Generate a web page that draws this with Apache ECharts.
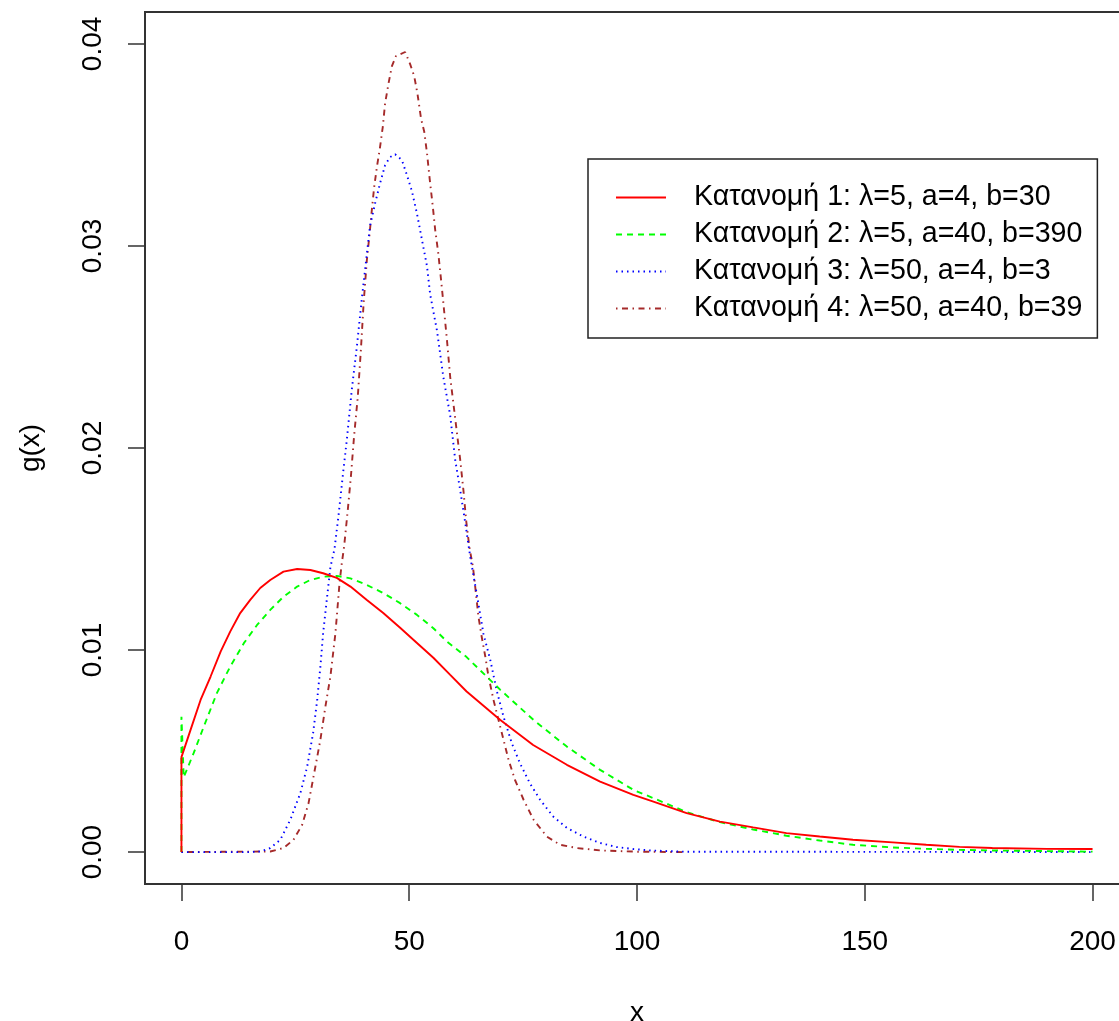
<!DOCTYPE html>
<html>
<head>
<meta charset="utf-8">
<script src="https://cdn.jsdelivr.net/npm/echarts@6/dist/echarts.min.js"></script>
<style>
html,body{margin:0;padding:0;background:#fff;}
#chart{width:1119px;height:1021px;}
</style>
</head>
<body>
<div id="chart"></div>
<script>
// Series names
const seriesNames = [
  'Κατανομή 1: λ=5, a=4, b=30',
  'Κατανομή 2: λ=5, a=40, b=390',
  'Κατανομή 3: λ=50, a=4, b=3',
  'Κατανομή 4: λ=50, a=40, b=39'
];
// Tick values
const xTicks = [0, 50, 100, 150, 200];
const yTicks = [0, 0.01, 0.02, 0.03, 0.04];

// [x, g(x)]
const dist1 = [[0,0],[0,0.0047],[2,0.00605],[4.2,0.00753],[6.4,0.00869],[8.6,0.00992],[10.7,0.01091],[12.9,0.01183],[15.1,0.01248],[17.3,0.01307],[19.5,0.01347],[22.4,0.01388],[25.4,0.01401],[28.3,0.01396],[31.1,0.0138],[34.1,0.01357],[37.1,0.01314],[40.7,0.01248],[44.3,0.01183],[48,0.0111],[51.7,0.01035],[55.3,0.00962],[59,0.00877],[62.6,0.00795],[70,0.00654],[77.2,0.0053],[84.6,0.00432],[91.9,0.00349],[99.2,0.00283],[103.6,0.0025],[110.9,0.00193],[118.2,0.00151],[125.5,0.00122],[132.8,0.00094],[140.1,0.00077],[147.4,0.00061],[156.1,0.00048],[163.5,0.00036],[170.8,0.00026],[178,0.0002],[190,0.00016],[200,0.00015]];

const dist2 = [[0,0],[0,0.0067],[0.5,0.0037],[2.7,0.00491],[4.9,0.00621],[7.8,0.00788],[10.7,0.00918],[13.7,0.01034],[16.6,0.01124],[19.5,0.01199],[22.4,0.01264],[25.4,0.01314],[28.3,0.01347],[31.2,0.01363],[34.1,0.01367],[37.1,0.01355],[40.7,0.01322],[44.4,0.01281],[48,0.01232],[51.7,0.01174],[55.3,0.01108],[58.3,0.01042],[62.6,0.00965],[70,0.00803],[77.3,0.00654],[84.6,0.00522],[91.9,0.00407],[99.2,0.00308],[103.6,0.00267],[110.9,0.00198],[118.2,0.00148],[125.5,0.00112],[132.8,0.00081],[140.1,0.00057],[147.4,0.00036],[156.1,0.00023],[163.5,0.00016],[170.8,0.00011],[178,0.00008],[185.5,0.00006],[200,0.00002]];

const dist3 = [[0,0],[15,0],[17.3,0.00003],[19.5,0.0002],[21.7,0.00061],[23.9,0.0016],[26.1,0.00292],[27.6,0.00423],[28.9,0.00589],[29.8,0.00753],[30.5,0.00918],[31.1,0.01083],[31.9,0.01248],[32.7,0.0141],[33.6,0.015],[34.5,0.0167],[35.5,0.0188],[36.3,0.0204],[37.4,0.0229],[38.5,0.025],[39.6,0.0274],[40.7,0.0296],[41.4,0.031],[42.5,0.0321],[43.6,0.0331],[44.7,0.034],[45.8,0.0344],[46.9,0.03454],[48.4,0.03425],[49.5,0.0335],[50.6,0.0327],[51.7,0.0316],[52.8,0.0303],[53.9,0.029],[54.6,0.0276],[56.1,0.0258],[57.5,0.0235],[59,0.0216],[60.1,0.0194],[61.2,0.0179],[62.3,0.0163],[63.4,0.0146],[64.8,0.0128],[66.3,0.0108],[67.8,0.0095],[69.2,0.008],[70.7,0.0067],[72.5,0.0054],[74.3,0.0044],[76.5,0.0034],[78.7,0.0026],[81.6,0.00176],[84.6,0.0012],[88.2,0.00077],[91.9,0.00045],[95.5,0.00025],[99.2,0.00015],[103,0.00008],[110,0.00002],[200,0]];

const dist4 = [[0,0],[19.5,0.00003],[22.4,0.0002],[24.6,0.00061],[26.5,0.00135],[27.9,0.00242],[29,0.00374],[30.5,0.00556],[31.6,0.0072],[32.7,0.00869],[33.8,0.01083],[34.7,0.01331],[35.2,0.0143],[35.7,0.0151],[36.5,0.0169],[37.2,0.0186],[37.9,0.0206],[38.7,0.0225],[39.4,0.0249],[40,0.0272],[40.7,0.0293],[41.3,0.0306],[41.8,0.0318],[42.3,0.0329],[42.9,0.0339],[43.6,0.0349],[44.2,0.0359],[44.7,0.03705],[45.5,0.0381],[46.2,0.0389],[47.1,0.0394],[49.1,0.0396],[50.2,0.039],[51.1,0.0384],[51.8,0.03755],[52.6,0.0363],[53.3,0.03565],[53.9,0.0346],[54.5,0.0333],[55.2,0.0319],[55.7,0.0308],[56.4,0.0296],[57,0.0283],[57.4,0.0274],[58.3,0.0253],[59,0.0235],[59.7,0.0222],[60.5,0.0207],[61.2,0.0194],[61.9,0.0179],[62.5,0.0164],[63.2,0.0151],[64,0.0141],[64.5,0.0131],[65.2,0.01165],[65.9,0.01067],[66.7,0.00968],[67.4,0.00869],[68.5,0.00753],[69.6,0.00654],[70.7,0.00556],[71.8,0.00457],[73.2,0.00358],[75.1,0.00259],[77.3,0.0016],[80.2,0.00077],[83.1,0.00036],[86.8,0.0002],[92,0.00008],[100,0.00002],[110,0]];

const FONT = "'Liberation Sans', Arial, sans-serif";
const chart = echarts.init(document.getElementById('chart'), null, {renderer: 'canvas'});

const styles = [
  {color: '#ff0000', width: 1.9, type: 'solid'},
  {color: '#00ff00', width: 1.9, type: [6, 5]},
  {color: '#0000ff', width: 1.9, type: [1.5, 4]},
  {color: '#a52a2a', width: 1.9, type: [1.5, 4.5, 6, 4.5]}
];
const datas = [dist1, dist2, dist3, dist4];

chart.setOption({
  animation: false,
  backgroundColor: '#ffffff',
  grid: {
    left: 145, top: 12, width: 984, height: 872,
    show: true, borderColor: '#333', borderWidth: 2, backgroundColor: 'transparent',
    containLabel: false, outerBoundsMode: 'none'
  },
  xAxis: {
    type: 'value', min: -8, max: 208,
    name: 'x', nameLocation: 'middle', nameGap: 115,
    nameTextStyle: {fontFamily: FONT, fontSize: 28, color: '#000'},
    axisLine: {show: false, onZero: false},
    splitLine: {show: false},
    axisTick: {show: true, inside: false, length: 17, customValues: xTicks, lineStyle: {color: '#333', width: 1.5}},
    axisLabel: {customValues: xTicks, margin: 44, fontFamily: FONT, fontSize: 28, color: '#000',
      formatter: v => String(v)}
  },
  yAxis: {
    type: 'value', min: -0.00158, max: 0.04158,
    name: 'g(x)', nameLocation: 'middle', nameGap: 100, nameRotate: 90,
    nameTextStyle: {fontFamily: FONT, fontSize: 28, color: '#000'},
    axisLine: {show: false, onZero: false},
    splitLine: {show: false},
    axisTick: {show: true, inside: false, length: 17, customValues: yTicks, lineStyle: {color: '#333', width: 1.5}},
    axisLabel: {customValues: yTicks, margin: 38, rotate: 90, fontFamily: FONT, fontSize: 28, color: '#000',
      formatter: v => v.toFixed(2)}
  },
  legend: {
    show: true, orient: 'vertical', left: 588, top: 159,
    padding: [24, 15, 15, 27],
    itemGap: 8, itemWidth: 50, itemHeight: 28,
    borderColor: '#222', borderWidth: 1.5,
    itemStyle: {opacity: 0},
    textStyle: {fontFamily: FONT, fontSize: 28.6, color: '#000', lineHeight: 28, padding: [0, 0, 0, 23]},
    data: seriesNames
  },
  series: seriesNames.map((n, i) => ({
    name: n, type: 'line', data: datas[i], showSymbol: false, symbol: 'none',
    smooth: false, lineStyle: styles[i], itemStyle: {color: styles[i].color},
    emphasis: {disabled: true}, z: 2 + (3 - i)
  }))
});
</script>
</body>
</html>
